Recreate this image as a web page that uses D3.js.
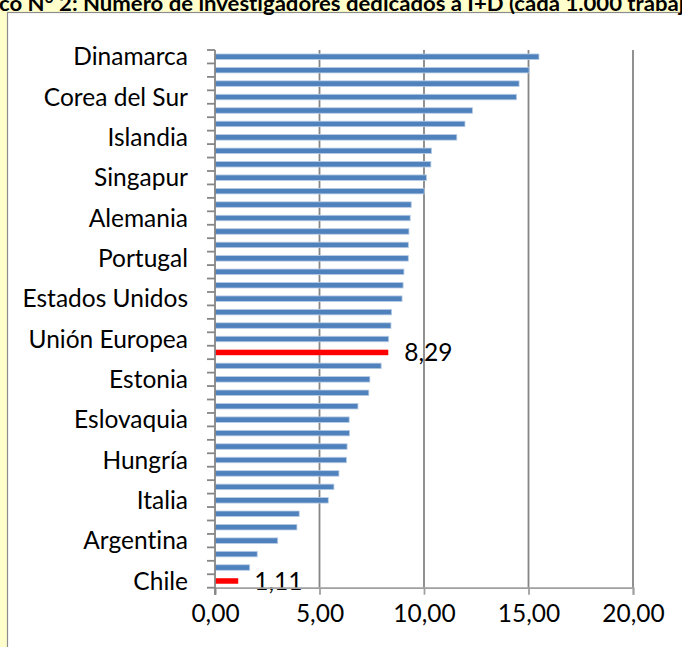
<!DOCTYPE html>
<html>
<head>
<meta charset="utf-8">
<script src="https://cdn.jsdelivr.net/npm/d3@7/dist/d3.min.js"></script>
<style>
  html, body { margin: 0; padding: 0; background: #FFFFCC; }
  svg { display: block; }
  text { font-variant-ligatures: none; font-feature-settings: "liga" 0; }
</style>
</head>
<body>
<svg id="chart" width="682" height="647"></svg>
<script>
// ---- data ----
const categories = [
  "Dinamarca","Finlandia","Suecia","Corea del Sur","Noruega","Japón","Islandia",
  "Luxemburgo","Nueva Zelanda","Singapur","Austria","Francia","Alemania","Canadá",
  "Bélgica","Portugal","Eslovenia","Irlanda","Estados Unidos","Australia","Reino Unido",
  "Unión Europea","OCDE","República Checa","Estonia","España","Holanda","Eslovaquia",
  "Grecia","Polonia","Hungría","Rusia","Taiwán","Italia","Turquía","Rumania",
  "Argentina","China","Sudáfrica","Chile"
];
const values = [
  15.50,15.03,14.55,14.43,12.32,11.96,11.57,
  10.36,10.33,10.12,10.01,9.39,9.34,9.28,
  9.25,9.25,9.04,9.00,8.95,8.45,8.42,
  8.31,8.29,7.95,7.41,7.36,6.84,6.42,
  6.44,6.32,6.29,5.93,5.69,5.42,4.03,3.92,
  3.00,2.02,1.66,1.11
];
const highlighted = ["OCDE","Chile"];     // red bars with value labels
const shownLabels = categories.filter((d, i) => i % 3 === 0);
const xTicks = [0, 5, 10, 15, 20];
const titleText = "Gráfico N° 2: Número de investigadores dedicados a I+D (cada 1.000 trabajadores)";

// ---- drawing ----
const svg = d3.select("#chart");
const W = 682, H = 647;
const FONT = "Lato, 'Open Sans', sans-serif";
const LABEL_SIZE = 24.5;

// chart area (white, gray border)
svg.append("rect").attr("x", 7.5).attr("y", 12.5).attr("width", W + 10).attr("height", H + 10)
  .attr("fill", "#FFFFFF").attr("stroke", "#8C8C8C").attr("stroke-width", 1.2);

// title (cropped at left/right/top like the reference)
const TS = 20;
const probe = svg.append("text").attr("font-family", FONT).attr("font-weight", "bold").attr("font-size", TS);
probe.text("Gráfi"); const wPre = probe.node().getComputedTextLength();
probe.text("Gráfico N° 2: Número de investigadores dedicados a I+D (cada 1.000 trabaj");
const wVis = probe.node().getComputedTextLength() - wPre;
probe.remove();
const sx = 686 / wVis;
svg.append("text").attr("font-family", FONT).attr("font-weight", "bold")
  .attr("font-size", TS).attr("fill", "#000")
  .attr("transform", `translate(${-wPre * sx - 1},11) scale(${sx},1)`)
  .text(titleText);

const x = d3.scaleLinear().domain([0, 20]).range([215, 633]);
const y = d3.scaleBand().domain(categories).range([50, 587.7])
  .paddingInner(0.59).paddingOuter(0.295);
const step = y.step();

// gridlines
svg.append("g").selectAll("line").data(xTicks.filter(d => d > 0)).join("line")
  .attr("x1", d => x(d)).attr("x2", d => x(d))
  .attr("y1", 50).attr("y2", 587.7)
  .attr("stroke", "#868686").attr("stroke-width", 1.8);

// bars
svg.append("g").selectAll("rect").data(categories).join("rect")
  .attr("x", x(0))
  .attr("y", d => y(d))
  .attr("width", (d, i) => x(values[i]) - x(0))
  .attr("height", y.bandwidth())
  .attr("fill", d => highlighted.includes(d) ? "#FF0000" : "#4F81BD")
  .attr("stroke", d => highlighted.includes(d) ? "none" : "#B9CDE5")
  .attr("stroke-width", 0.8);

// value labels
svg.append("g").selectAll("text").data(categories.filter(d => highlighted.includes(d))).join("text")
  .attr("x", d => x(values[categories.indexOf(d)]) + 16)
  .attr("y", d => y(d) + y.bandwidth() / 2 + 9)
  .attr("font-family", FONT).attr("font-size", LABEL_SIZE).attr("fill", "#000")
  .text(d => d3.format(".2f")(values[categories.indexOf(d)]).replace(".", ","));

// x axis
const xAxis = svg.append("g").attr("transform", "translate(0,587.7)")
  .call(d3.axisBottom(x).tickValues(xTicks).tickSize(7).tickPadding(10)
    .tickFormat(d => d3.format(".2f")(d).replace(".", ",")));
xAxis.select(".domain").attr("stroke", "#A0A0A0").attr("stroke-width", 1.8);
xAxis.selectAll(".tick line").attr("stroke", "#A0A0A0").attr("stroke-width", 1.8);
xAxis.selectAll("text").attr("font-family", FONT).attr("font-size", LABEL_SIZE).attr("fill", "#000");

// y axis
const yAxis = svg.append("g").attr("transform", `translate(${x(0)},0)`)
  .call(d3.axisLeft(y).tickValues(shownLabels).tickSize(0).tickPadding(27));
yAxis.select(".domain").remove();
yAxis.selectAll("text").attr("font-family", FONT).attr("font-size", LABEL_SIZE).attr("fill", "#000")
  .attr("dy", "0.35em");
// y axis line and boundary ticks
svg.append("line").attr("x1", x(0)).attr("x2", x(0)).attr("y1", 50).attr("y2", 595)
  .attr("stroke", "#868686").attr("stroke-width", 1.8);
const bounds = d3.range(categories.length + 1).map(i => 50 + i * step);
svg.append("g").selectAll("line").data(bounds).join("line")
  .attr("x1", x(0) - 8).attr("x2", x(0)).attr("y1", d => d).attr("y2", d => d)
  .attr("stroke", "#868686").attr("stroke-width", 1.8);
</script>
</body>
</html>
